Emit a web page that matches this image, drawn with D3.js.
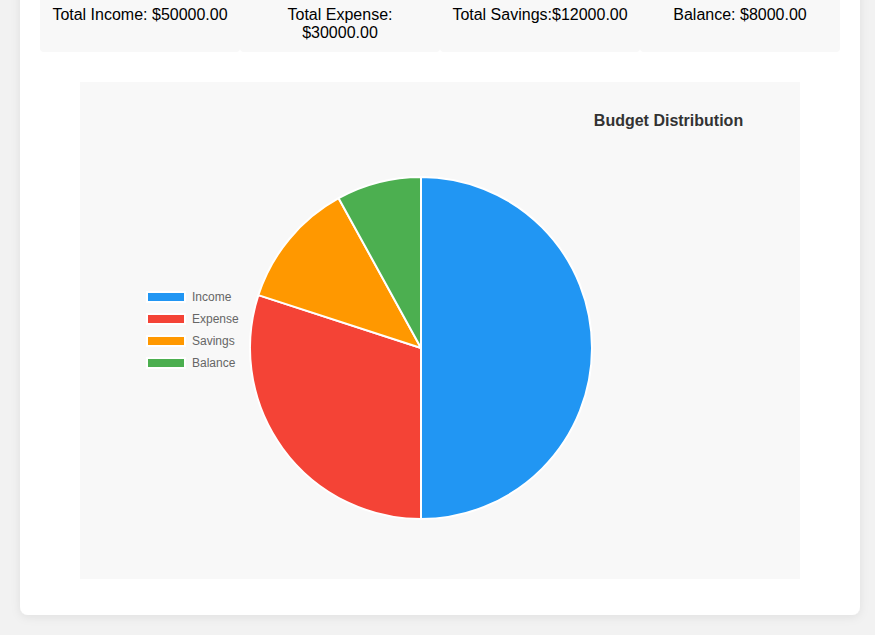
<!DOCTYPE html>
<html>
<head>
<meta charset="utf-8">
<script src="https://cdn.jsdelivr.net/npm/d3@7"></script>
<style>
  html, body { margin: 0; padding: 0; background: #f2f2f2; overflow: hidden; }
  svg { display: block; }
</style>
</head>
<body>
<svg id="chart" width="875" height="635"></svg>
<script>
// ---- Data ----
const categories = ["Income", "Expense", "Savings", "Balance"];
const values = [50000, 30000, 12000, 8000];
const colors = ["#2196F3", "#F44336", "#FF9800", "#4CAF50"];
const summaryLines = [
  ["Total Income: $50000.00"],
  ["Total Expense:", "$30000.00"],
  ["Total Savings:$12000.00"],
  ["Balance: $8000.00"]
];
const chartTitle = "Budget Distribution";

const svg = d3.select("#chart");
const font = "Arial, 'Liberation Sans', Helvetica, sans-serif";

// shadow filter
const defs = svg.append("defs");
const f = defs.append("filter").attr("id", "shadow").attr("x", "-10%").attr("y", "-10%").attr("width", "120%").attr("height", "120%");
f.append("feDropShadow").attr("dx", 0).attr("dy", 2).attr("stdDeviation", 5).attr("flood-color", "#000").attr("flood-opacity", 0.08);

// card
svg.append("rect").attr("x", 20).attr("y", -40).attr("width", 840).attr("height", 655)
  .attr("rx", 8).attr("fill", "#fff").attr("filter", "url(#shadow)");

// summary boxes
const colX = d3.scaleBand().domain(d3.range(summaryLines.length)).range([40, 840]);
const sg = svg.append("g").selectAll("g").data(summaryLines).join("g")
  .attr("transform", (d, i) => `translate(${colX(i)},0)`);
sg.append("rect").attr("x", 0).attr("y", -40).attr("width", colX.bandwidth()).attr("height", 92)
  .attr("rx", 4).attr("fill", "#f8f8f8");
sg.append("text")
  .attr("x", colX.bandwidth() / 2).attr("y", 20)
  .attr("text-anchor", "middle").attr("font-family", font).attr("font-size", 16).attr("fill", "#000")
  .selectAll("tspan").data(d => d).join("tspan")
  .attr("x", colX.bandwidth() / 2).attr("dy", (d, i) => i === 0 ? 0 : 18.4).text(d => d);

// chart panel
svg.append("rect").attr("x", 80).attr("y", 82).attr("width", 720).attr("height", 497).attr("fill", "#f8f8f8");

// title
svg.append("text").attr("x", 668.5).attr("y", 126).attr("text-anchor", "middle")
  .attr("font-family", font).attr("font-size", 16).attr("font-weight", "bold").attr("fill", "#333")
  .text(chartTitle);

// pie
const cx = 421, cy = 348, r = 171;
const color = d3.scaleOrdinal().domain(categories).range(colors);
const pie = d3.pie().sort(null).value(d => d.value);
const arc = d3.arc().innerRadius(0).outerRadius(r);
const data = categories.map((c, i) => ({ cat: c, value: values[i] }));
svg.append("g").attr("transform", `translate(${cx},${cy})`)
  .selectAll("path").data(pie(data)).join("path")
  .attr("d", arc).attr("fill", d => color(d.data.cat))
  .attr("stroke", "#fff").attr("stroke-width", 2).attr("stroke-linejoin", "round");

// legend
const ly = d3.scalePoint().domain(categories).range([297, 363]);
const lg = svg.append("g").selectAll("g").data(categories).join("g")
  .attr("transform", d => `translate(147,${ly(d)})`);
lg.append("rect").attr("x", 0).attr("y", -5).attr("width", 38).attr("height", 10)
  .attr("fill", d => color(d)).attr("stroke", "#fff").attr("stroke-width", 2);
lg.append("text").attr("x", 45).attr("y", 4).attr("font-family", font).attr("font-size", 12)
  .attr("fill", "#666").text(d => d);
</script>
</body>
</html>
